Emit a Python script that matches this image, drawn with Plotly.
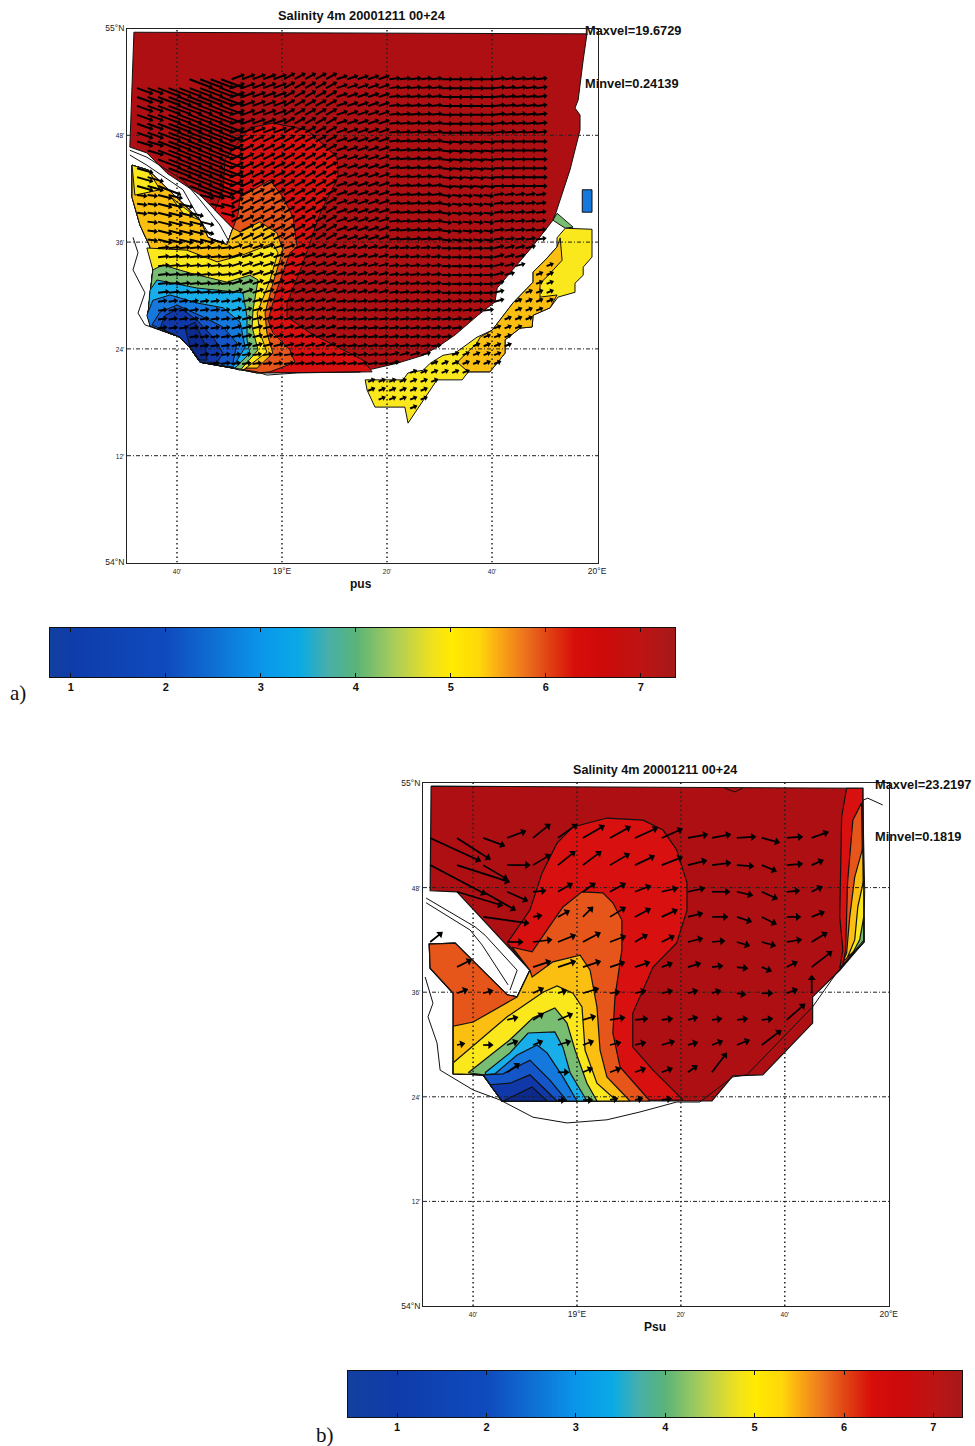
import numpy as np
import plotly.graph_objects as go

# ---------- page / axis layout (pixels on the 975x1446 sheet) ----------
W, H = 975, 1446
MAP_A_BOX = (127, 598, 28.5, 562.5)
MAP_B_BOX = (423, 889, 783, 1306)
BAR_A_BOX = (50, 675, 628, 677)
BAR_B_BOX = (348, 962, 1371, 1417)

# ---------- axes ----------
LON_TICKS = [18.6667, 19.0, 19.3333, 19.6667, 20.0]
LON_LABELS = ["<span style='font-size:6.5px'>40'</span>", "19°E", "<span style='font-size:6.5px'>20'</span>",
              "<span style='font-size:6.5px'>40'</span>", "20°E"]
LAT_TICKS = [54.0, 54.2, 54.4, 54.6, 54.8, 55.0]
LAT_LABELS = ["54°N", "<span style='font-size:6.5px'>12'</span>", "<span style='font-size:6.5px'>24'</span>",
              "<span style='font-size:6.5px'>36'</span>", "<span style='font-size:6.5px'>48'</span>", "55°N"]

# ---------- salinity colour classes ----------
C_DARKRED, C_RED, C_ORANGERED, C_AMBER, C_YELLOW, C_GREEN = "#ad0f12", "#d8100f", "#e6561a", "#fbbf12", "#fbe81c", "#79bd72"
C_SKY, C_BLUE, C_MIDBLUE, C_DEEP, C_DARKEST = "#18aeea", "#1478dc", "#1455c8", "#1038a8", "#0c2a8c"

# ---------- MAP A : salinity regions (lon, lat) ----------
A_SW_LON = [18.921, 18.844, 18.740, 18.708, 18.676, 18.581, 18.575, 18.590, 18.581, 18.549, 18.524, 18.524, 18.575, 18.740, 18.765, 18.825, 18.844]
A_SW_LAT = [54.355, 54.364, 54.375, 54.402, 54.422, 54.443, 54.467, 54.548, 54.591, 54.632, 54.684, 54.744, 54.735, 54.641, 54.609, 54.595, 54.626]
A_SC_LON = [18.844, 18.740, 18.708, 18.676, 18.581, 18.575]
A_SC_LAT = [54.364, 54.375, 54.402, 54.422, 54.443, 54.467]

A_BASE_LON = [18.530, 19.968, 19.956, 19.940, 19.930, 19.946, 19.946, 19.914, 19.870, 19.860, 19.794, 19.683, 19.676, 19.622, 19.549, 19.502, 19.448, 19.365, 19.248] + A_SW_LON + [18.740, 18.635, 18.571, 18.517]
A_BASE_LAT = [54.993, 54.990, 54.941, 54.866, 54.851, 54.838, 54.810, 54.735, 54.656, 54.641, 54.591, 54.514, 54.488, 54.463, 54.426, 54.407, 54.388, 54.373, 54.357] + A_SW_LAT + [54.688, 54.729, 54.767, 54.778]
A_RED_LON = [18.787, 18.813, 18.819, 18.898, 18.971, 19.079, 19.175, 19.178, 19.121, 19.067, 19.016, 19.016, 19.089, 19.257, 19.286] + A_SW_LON
A_RED_LAT = [54.660, 54.698, 54.754, 54.814, 54.823, 54.810, 54.759, 54.722, 54.654, 54.561, 54.486, 54.460, 54.430, 54.379, 54.357] + A_SW_LAT
A_ORG_LON = [18.860, 18.867, 18.962, 19.003, 19.035, 19.048, 19.025, 18.978, 18.956, 18.971, 19.025, 19.041, 18.962] + A_SW_LON
A_ORG_LAT = [54.651, 54.684, 54.716, 54.684, 54.647, 54.591, 54.580, 54.501, 54.454, 54.430, 54.398, 54.375, 54.357] + A_SW_LAT
A_AMB_LON = [18.867, 18.930, 18.984, 19.003, 18.971, 18.946, 18.952, 18.971, 18.921] + A_SW_LON[1:]
A_AMB_LAT = [54.619, 54.638, 54.617, 54.585, 54.523, 54.467, 54.430, 54.392, 54.364] + A_SW_LAT[1:]
A_YEL_LON = [18.571, 18.698, 18.794, 18.876, 18.971, 18.987, 18.962, 18.921, 18.930, 18.952, 18.876] + A_SC_LON + [18.590]
A_YEL_LAT = [54.589, 54.585, 54.563, 54.576, 54.598, 54.580, 54.529, 54.467, 54.430, 54.394, 54.360] + A_SC_LAT + [54.548]
A_GRN_LON = [18.590, 18.622, 18.708, 18.825, 18.898, 18.924, 18.908, 18.905, 18.924, 18.867] + A_SC_LON
A_GRN_LAT = [54.548, 54.557, 54.542, 54.525, 54.538, 54.529, 54.473, 54.441, 54.398, 54.360] + A_SC_LAT
A_SKY_LON = [18.581, 18.603, 18.730, 18.876, 18.889, 18.889, 18.898, 18.851] + A_SC_LON[1:]
A_SKY_LAT = [54.510, 54.529, 54.514, 54.505, 54.460, 54.417, 54.392, 54.364] + A_SC_LAT[1:]
A_BLU_LON = [18.571, 18.590, 18.644, 18.730, 18.813, 18.867, 18.883, 18.857, 18.844, 18.740, 18.708, 18.676, 18.581]
A_BLU_LAT = [54.463, 54.491, 54.501, 54.486, 54.477, 54.450, 54.403, 54.379, 54.366, 54.375, 54.402, 54.422, 54.443]
A_MID_LON = [18.587, 18.613, 18.667, 18.749, 18.813, 18.857, 18.844, 18.771, 18.740, 18.708, 18.676]
A_MID_LAT = [54.445, 54.469, 54.482, 54.460, 54.441, 54.411, 54.373, 54.373, 54.375, 54.402, 54.422]
A_DEP_LON = [18.613, 18.629, 18.676, 18.730, 18.781, 18.813, 18.794, 18.740, 18.708, 18.676]
A_DEP_LAT = [54.439, 54.463, 54.477, 54.454, 54.422, 54.392, 54.375, 54.375, 54.402, 54.422]
A_DRK_LON = [18.692, 18.724, 18.756, 18.762, 18.740, 18.708]
A_DRK_LAT = [54.441, 54.450, 54.407, 54.379, 54.379, 54.403]
A_PATCH_LON = [18.524, 18.575, 18.613, 18.533]
A_PATCH_LAT = [54.744, 54.735, 54.698, 54.688]
A_PATCH2_LON = [18.648, 18.740, 18.686]
A_PATCH2_LAT = [54.684, 54.641, 54.654]
A_BOX_LON = [19.953, 19.984, 19.984, 19.953]
A_BOX_LAT = [54.698, 54.698, 54.656, 54.656]
A_SLIV_LON = [19.873, 19.924, 19.899, 19.860]
A_SLIV_LAT = [54.654, 54.628, 54.626, 54.641]
A_LOBE_LON = [19.899, 19.984, 19.984, 19.956, 19.956, 19.930, 19.930, 19.876, 19.851, 19.797, 19.794, 19.756, 19.708, 19.708, 19.660, 19.591, 19.572, 19.492, 19.400, 19.390, 19.343, 19.295, 19.270, 19.264, 19.384, 19.400, 19.448, 19.470, 19.511, 19.549, 19.619, 19.667, 19.733, 19.797, 19.797, 19.835, 19.873, 19.873]
A_LOBE_LAT = [54.626, 54.624, 54.572, 54.553, 54.538, 54.523, 54.506, 54.497, 54.477, 54.463, 54.441, 54.439, 54.417, 54.392, 54.357, 54.357, 54.342, 54.342, 54.261, 54.291, 54.291, 54.291, 54.323, 54.342, 54.342, 54.355, 54.360, 54.373, 54.388, 54.392, 54.422, 54.435, 54.486, 54.525, 54.544, 54.566, 54.591, 54.608]
A_LOBEAMB_LON = [19.883, 19.889, 19.841, 19.819, 19.819, 19.873, 19.851, 19.797, 19.794, 19.756, 19.708, 19.708, 19.660, 19.591, 19.556, 19.619, 19.629, 19.667, 19.733, 19.797, 19.797, 19.835, 19.873]
A_LOBEAMB_LAT = [54.608, 54.566, 54.535, 54.523, 54.497, 54.501, 54.477, 54.463, 54.441, 54.439, 54.417, 54.392, 54.357, 54.357, 54.375, 54.411, 54.422, 54.435, 54.486, 54.525, 54.544, 54.566, 54.591]
A_COAST_LON = [18.527, 18.543, 18.527, 18.565, 18.543, 18.565, 18.676, 18.708, 18.740, 18.857, 18.921, 18.952, 19.048, 19.248]
A_COAST_LAT = [54.609, 54.580, 54.548, 54.505, 54.467, 54.445, 54.422, 54.402, 54.375, 54.364, 54.357, 54.351, 54.355, 54.357]
A_SPIT1_LON = [18.517, 18.571, 18.686, 18.740, 18.803, 18.829]
A_SPIT1_LAT = [54.772, 54.759, 54.716, 54.679, 54.632, 54.604]
A_SPIT2_LON = [18.517, 18.571, 18.686, 18.740, 18.771]
A_SPIT2_LAT = [54.763, 54.744, 54.698, 54.641, 54.613]

# MAP A : current vectors, read block by block (regular model grid)
A_GRID_LON = np.arange(18.54, 19.84, 1 / 30)
A_GRID_LAT = np.arange(54.905, 54.28, -1 / 60)
A_COVER_LON = [18.53, 18.76, 19.84, 19.84, 19.885, 19.885, 18.5]
A_COVER_LAT = [54.892, 54.912, 54.912, 54.60, 54.60, 54.2, 54.2]
A_BLOCK_LON_EDGES = [18.60, 18.83, 19.0, 19.17, 19.33, 19.5, 19.67, 19.83]
A_BLOCK_LAT_EDGES = [54.8, 54.7, 54.6, 54.5, 54.4]
A_BLOCK_U = [[14, 21, 11, 9, 9, 9, 9, 9, 9],
             [14, 21, 10, 9, 9, 9, 9, 9, 9],
             [8, 12, 10, 9, 9, 9, 8, 8, 8],
             [8, 9, 9, 9, 8, 8, 8, 8, 8],
             [7, 7, 8, 8, 8, 8, 8, 8, 8],
             [7, 7, 7, 8, 8, 8, 8, 8, 8]]
A_BLOCK_V = [[-5, -8, 4, 5, 3, 1, 0, 1, 1],
             [-4, -8, 5, 5, 3, 1, -1, 0, 1],
             [-1, -3, 5, 5, 3, 1, -1, 1, 3],
             [2, 1, 3, 3, 2, 1, 0, 2, 3],
             [1, 1, 2, 2, 1, 1, 1, 2, 3],
             [1, 1, 1, 1, 1, 2, 3, 3, 3]]
A_LOBE_U, A_LOBE_V = 5, 2

# ---------- MAP B : salinity regions ----------
B_SW_LON = [18.760, 18.699, 18.603, 18.603, 18.529, 18.526, 18.609, 18.776, 18.808, 18.849]
B_SW_LAT = [54.392, 54.442, 54.444, 54.598, 54.646, 54.692, 54.694, 54.595, 54.591, 54.642]
B_BASE_LON = [18.532, 19.917, 19.920, 19.843, 19.756, 19.756, 19.596, 19.500, 19.433] + B_SW_LON + [18.615, 18.529]
B_BASE_LAT = [54.994, 54.990, 54.696, 54.642, 54.591, 54.541, 54.442, 54.440, 54.392] + B_SW_LAT + [54.792, 54.794]
B_RED_LON = [18.776, 18.849, 18.888, 18.936, 18.987, 19.096, 19.212, 19.276, 19.320, 19.353, 19.353, 19.320, 19.244, 19.179, 19.179, 19.244, 19.340] + B_SW_LON
B_RED_LAT = [54.694, 54.757, 54.828, 54.885, 54.916, 54.933, 54.929, 54.910, 54.872, 54.809, 54.757, 54.694, 54.648, 54.560, 54.495, 54.451, 54.394] + B_SW_LAT
B_ORG_LON = [18.792, 18.856, 18.904, 18.955, 19.016, 19.083, 19.115, 19.144, 19.144, 19.122, 19.115, 19.138, 19.234] + B_SW_LON
B_ORG_LAT = [54.686, 54.677, 54.719, 54.763, 54.792, 54.790, 54.771, 54.738, 54.681, 54.591, 54.522, 54.457, 54.392] + B_SW_LAT
B_AMB_LON = [18.808, 18.849, 18.856, 18.923, 19.010, 19.042, 19.064, 19.074, 19.096, 19.170, 18.760, 18.699, 18.603, 18.603, 18.667]
B_AMB_LAT = [54.591, 54.642, 54.629, 54.658, 54.671, 54.642, 54.572, 54.489, 54.438, 54.392, 54.392, 54.442, 54.444, 54.535, 54.543]
B_YEL_LON = [18.603, 18.776, 18.891, 18.936, 18.987, 19.016, 19.026, 19.064, 19.128, 18.760, 18.699, 18.603]
B_YEL_LAT = [54.465, 54.553, 54.600, 54.612, 54.598, 54.572, 54.489, 54.426, 54.392, 54.392, 54.442, 54.444]
B_GRN_LON = [18.651, 18.785, 18.859, 18.929, 18.968, 18.994, 19.032, 19.064, 18.760, 18.699]
B_GRN_LAT = [54.446, 54.509, 54.551, 54.570, 54.541, 54.489, 54.426, 54.392, 54.392, 54.442]
B_SKY_LON = [18.705, 18.785, 18.843, 18.929, 18.955, 18.978, 19.032, 18.760]
B_SKY_LAT = [54.446, 54.484, 54.522, 54.524, 54.495, 54.446, 54.392, 54.392]
B_BLU_LON = [18.737, 18.808, 18.872, 18.904, 18.955, 19.000, 18.760, 18.699]
B_BLU_LAT = [54.444, 54.480, 54.499, 54.484, 54.438, 54.392, 54.392, 54.442]
B_MID_LON = [18.699, 18.763, 18.849, 18.913, 18.968, 18.760]
B_MID_LAT = [54.442, 54.444, 54.470, 54.432, 54.392, 54.392]
B_DEP_LON = [18.721, 18.785, 18.849, 18.936, 18.760]
B_DEP_LAT = [54.423, 54.426, 54.442, 54.392, 54.392]
B_DRK_LON = [18.763, 18.856, 18.904]
B_DRK_LAT = [54.392, 54.419, 54.392]
B_E_RED_LON = [19.865, 19.849, 19.843, 19.853, 19.843, 19.920, 19.917]
B_E_RED_LAT = [54.990, 54.935, 54.744, 54.681, 54.646, 54.696, 54.990]
B_E_ORG_LON = [19.913, 19.885, 19.868, 19.862, 19.853, 19.920]
B_E_ORG_LAT = [54.962, 54.929, 54.809, 54.681, 54.652, 54.696]
B_E_AMB_LON = [19.917, 19.891, 19.875, 19.865, 19.853, 19.920]
B_E_AMB_LAT = [54.876, 54.820, 54.744, 54.675, 54.658, 54.696]
B_E_YEL_LON = [19.920, 19.901, 19.891, 19.868, 19.920]
B_E_YEL_LAT = [54.815, 54.763, 54.700, 54.667, 54.696]
B_E_GRN_LON = [19.920, 19.907, 19.881, 19.920]
B_E_GRN_LAT = [54.744, 54.700, 54.671, 54.696]
B_COAST_LON = [18.513, 18.538, 18.522, 18.551, 18.561, 18.667, 18.753, 18.859, 18.968, 19.096, 19.202, 19.320, 19.394, 19.500, 19.545, 19.756, 19.833, 19.920, 19.923, 19.917, 19.933, 19.981]
B_COAST_LAT = [54.629, 54.579, 54.553, 54.503, 54.451, 54.413, 54.394, 54.361, 54.350, 54.356, 54.371, 54.390, 54.390, 54.438, 54.442, 54.572, 54.637, 54.700, 54.795, 54.967, 54.971, 54.958]
B_SPIT1_LON = [18.516, 18.673, 18.705, 18.808, 18.785]
B_SPIT1_LAT = [54.780, 54.725, 54.709, 54.642, 54.604]
B_SPIT2_LON = [18.516, 18.657, 18.696, 18.779]
B_SPIT2_LAT = [54.771, 54.719, 54.690, 54.614]
B_NOTCH_LON = [19.474, 19.506, 19.532]
B_NOTCH_LAT = [54.990, 54.983, 54.990]

# MAP B : current vectors at each grid node
B_COL_LON = [18.529, 18.615, 18.699, 18.776, 18.859, 18.939, 19.019, 19.106, 19.186, 19.272, 19.356, 19.433, 19.513, 19.593, 19.673, 19.753]
B_ROW_LAT = [54.895, 54.843, 54.792, 54.744, 54.696, 54.648, 54.598, 54.547, 54.499, 54.447, 54.394]
_ = None
B_U = [[48, 31, 19, 16, 15, 17, 19, 18, 20, 18, 17, 16, 16, 15, 13, 14],
       [53, 50, 22, 20, 15, 15, 16, 17, 17, 18, 16, 16, 14, 12, 13, 9],
       [_, 43, 30, 18, 10, 12, 10, 13, 13, 13, 14, 15, 13, 13, 10, 8],
       [_, _, 43, _, 6, 9, 8, 13, 13, 13, 12, 13, 12, 12, 11, 10],
       [10, _, _, 13, 16, 15, 15, 13, 10, 10, 12, 10, 10, 11, 12, 13],
       [_, 12, _, _, 15, 15, 15, 12, 12, 8, 10, 8, 8, 7, 8, 18],
       [_, 8, 7, _, 8, 6, 13, 7, 8, 8, 7, 6, 6, 8, 8, 0],
       [_, _, _, 8, 8, 12, 10, 12, 10, 8, 7, 7, 8, 8, 16, _],
       [_, 5, 7, 8, 7, 10, 8, 8, 8, 10, 7, 8, 10, 17, _, _],
       [_, _, _, 10, _, 8, 7, 8, 8, 8, 7, 13, _, _, _, _],
       [_, _, _, _, _, 5, 7, 5, 5, 7, _, _, _, _, _, _]]
B_V = [[-22, -20, -7, 6, 12, 12, 11, 10, 9, 8, 3, 3, 1, -4, 1, 5],
       [-28, -16, -13, 0, 9, 12, 12, 10, 8, 7, 4, 2, -1, -5, 1, 4],
       [_, -13, -17, -8, 1, 7, 7, 7, 5, 3, 3, 0, -3, -6, 1, 4],
       [_, _, -6, _, 1, 5, 8, 8, 7, 6, 3, 0, -4, -6, 0, 4],
       [8, _, _, 0, 2, 6, 8, 5, 6, 5, 3, 1, -3, -3, 2, 8],
       [_, 6, _, _, 5, 5, 5, 4, 4, 3, 3, 1, -1, -3, 4, 14],
       [_, 3, 2, _, 4, 2, 4, 1, 2, 2, 2, 2, -1, 0, 3, 15],
       [_, _, _, 2, 5, 5, 3, 2, 1, 1, 2, 1, 1, 1, 14, _],
       [_, 1, 0, 3, 3, 3, 3, 2, 2, 3, 2, 3, 4, 13, _, _],
       [_, _, _, 7, _, 0, 3, 3, 3, 3, 5, 17, _, _, _, _],
       [_, _, _, _, _, 0, 0, 1, 1, 1, _, _, _, _, _, _]]

# ---------- colour bars ----------
BAR_A_LEVELS = [0.78, 1, 1.5, 2, 2.5, 3, 3.4, 3.7, 4, 4.4, 4.8, 5, 5.3, 5.5, 5.8, 6, 6.3, 6.6, 7, 7.36]
BAR_B_LEVELS = [0.45, 1, 1.5, 2, 2.5, 3, 3.4, 3.7, 4, 4.4, 4.8, 5, 5.3, 5.5, 5.8, 6, 6.3, 6.6, 7, 7.32]
BAR_TICKS = [1, 2, 3, 4, 5, 6, 7]
SAL_STOPS = [0.45, 1, 2, 2.5, 3, 3.4, 3.7, 4, 4.4, 4.8, 5, 5.3, 5.5, 5.8, 6, 6.3, 6.6, 7, 7.36]
SAL_COLORS = ["#12409f", "#0f3caa", "#0f4bbe", "#0f6ed2", "#0a96eb", "#0aaae6", "#46afaa", "#5ab478", "#aacd5a",
              "#f0e11e", "#ffeb00", "#ffd70a", "#faaa14", "#eb6e1e", "#e14614", "#d70f0a", "#cd0a0a", "#be1414", "#a5191a"]

# ---------- helpers ----------
def xdom(box):
    return [box[0] / W, box[1] / W]

def ydom(box):
    return [1 - box[3] / H, 1 - box[2] / H]

def bar_scale(lo, hi):
    pts = [(s, c) for s, c in zip(SAL_STOPS, SAL_COLORS) if lo < s < hi]
    first = SAL_COLORS[0] if lo <= 1 else SAL_COLORS[1]
    return [[0.0, first]] + [[(s - lo) / (hi - lo), c] for s, c in pts] + [[1.0, SAL_COLORS[-1]]]

def inside(px, py, lon, lat):
    lon, lat = np.asarray(lon), np.asarray(lat)
    x2, y2 = np.roll(lon, -1), np.roll(lat, -1)
    c = False
    for x1, y1, xb, yb in zip(lon, lat, x2, y2):
        if (y1 > py) != (yb > py) and px < (xb - x1) * (py - y1) / (yb - y1) + x1:
            c = not c
    return c

fig = go.Figure()

def region(lon, lat, color, ax, lw=1.0):
    fig.add_trace(go.Scatter(x=lon + lon[:1], y=lat + lat[:1], mode="lines", fill="toself", fillcolor=color,
                             line=dict(color="#111111", width=lw), hoverinfo="skip", showlegend=False,
                             xaxis="x" + ax, yaxis="y" + ax))

def polyline(lon, lat, ax, lw=1.0):
    fig.add_trace(go.Scatter(x=lon, y=lat, mode="lines", line=dict(color="#111111", width=lw), hoverinfo="skip",
                             showlegend=False, xaxis="x" + ax, yaxis="y" + ax))

def grid(ax, xr, yr):
    lx, ly = [], []
    for v in LON_TICKS[:-1]:
        lx += [v, v, None]
        ly += [yr[0], yr[1], None]
    fig.add_trace(go.Scatter(x=lx, y=ly, mode="lines", line=dict(color="#222222", width=1.5, dash="1.5px,3px"),
                             hoverinfo="skip", showlegend=False, xaxis="x" + ax, yaxis="y" + ax))
    lx, ly = [], []
    for v in LAT_TICKS[1:-1]:
        lx += [xr[0], xr[1], None]
        ly += [v, v, None]
    fig.add_trace(go.Scatter(x=lx, y=ly, mode="lines", line=dict(color="#222222", width=1, dash="4px,2px,1px,2px"),
                             hoverinfo="skip", showlegend=False, xaxis="x" + ax, yaxis="y" + ax))

def quiver(lons, lats, us, vs, kx, ky, ax, lw, head):
    lx, ly, hx, hy, ang = [], [], [], [], []
    for lo, la, u, v in zip(lons, lats, us, vs):
        ex, ey = lo + u * kx, la + v * ky
        lx += [lo, ex, None]
        ly += [la, ey, None]
        hx.append(ex)
        hy.append(ey)
        ang.append(float(np.degrees(np.arctan2(u, v))))
    fig.add_trace(go.Scatter(x=lx, y=ly, mode="lines", line=dict(color="black", width=lw), hoverinfo="skip",
                             showlegend=False, xaxis="x" + ax, yaxis="y" + ax))
    fig.add_trace(go.Scatter(x=hx, y=hy, mode="markers",
                             marker=dict(symbol="triangle-up", size=head, color="black", angle=ang, line=dict(width=0)),
                             hoverinfo="skip", showlegend=False, xaxis="x" + ax, yaxis="y" + ax))

# ---------- draw map A ----------
A_X = [18.508, 20.003]
B_X = [18.506, 20.001]
LAT_R = [54.0, 55.0]
for lon, lat, col in [(A_BASE_LON, A_BASE_LAT, C_DARKRED), (A_RED_LON, A_RED_LAT, C_RED), (A_ORG_LON, A_ORG_LAT, C_ORANGERED),
                      (A_AMB_LON, A_AMB_LAT, C_AMBER), (A_PATCH_LON, A_PATCH_LAT, C_YELLOW), (A_PATCH2_LON, A_PATCH2_LAT, C_YELLOW),
                      (A_YEL_LON, A_YEL_LAT, C_YELLOW), (A_GRN_LON, A_GRN_LAT, C_GREEN), (A_SKY_LON, A_SKY_LAT, C_SKY),
                      (A_BLU_LON, A_BLU_LAT, C_BLUE), (A_MID_LON, A_MID_LAT, C_MIDBLUE), (A_DEP_LON, A_DEP_LAT, C_DEEP),
                      (A_DRK_LON, A_DRK_LAT, C_DARKEST), (A_BOX_LON, A_BOX_LAT, C_BLUE), (A_SLIV_LON, A_SLIV_LAT, C_GREEN),
                      (A_LOBE_LON, A_LOBE_LAT, C_YELLOW), (A_LOBEAMB_LON, A_LOBEAMB_LAT, C_AMBER)]:
    region(lon, lat, col, "")
polyline(A_COAST_LON, A_COAST_LAT, "")
polyline(A_SPIT1_LON, A_SPIT1_LAT, "")
polyline(A_SPIT2_LON, A_SPIT2_LAT, "")
grid("", A_X, LAT_R)

qlon, qlat, qu, qv = [], [], [], []
A_LON_E = np.array(A_BLOCK_LON_EDGES)
A_LAT_E = np.array(A_BLOCK_LAT_EDGES)
for la in A_GRID_LAT:
    for lo in A_GRID_LON:
        if not inside(lo, la, A_COVER_LON, A_COVER_LAT):
            continue
        if inside(lo, la, A_LOBE_LON, A_LOBE_LAT):
            u, v = A_LOBE_U, A_LOBE_V
        elif inside(lo, la, A_BASE_LON, A_BASE_LAT):
            r = int(np.sum(la < A_LAT_E))
            c = int(np.sum(lo > A_LON_E))
            u, v = A_BLOCK_U[r][c], A_BLOCK_V[r][c]
        else:
            continue
        qlon.append(float(lo)); qlat.append(float(la)); qu.append(u); qv.append(v)
quiver(qlon, qlat, qu, qv, 1 / 315, 1 / 534, "", 2.0, 5)

# ---------- draw map B ----------
for lon, lat, col in [(B_BASE_LON, B_BASE_LAT, C_DARKRED), (B_RED_LON, B_RED_LAT, C_RED), (B_ORG_LON, B_ORG_LAT, C_ORANGERED),
                      (B_AMB_LON, B_AMB_LAT, C_AMBER), (B_YEL_LON, B_YEL_LAT, C_YELLOW), (B_GRN_LON, B_GRN_LAT, C_GREEN),
                      (B_SKY_LON, B_SKY_LAT, C_SKY), (B_BLU_LON, B_BLU_LAT, C_BLUE), (B_MID_LON, B_MID_LAT, C_MIDBLUE),
                      (B_DEP_LON, B_DEP_LAT, C_DEEP), (B_DRK_LON, B_DRK_LAT, C_DARKEST), (B_E_RED_LON, B_E_RED_LAT, C_RED),
                      (B_E_ORG_LON, B_E_ORG_LAT, C_ORANGERED), (B_E_AMB_LON, B_E_AMB_LAT, C_AMBER),
                      (B_E_YEL_LON, B_E_YEL_LAT, C_YELLOW), (B_E_GRN_LON, B_E_GRN_LAT, C_GREEN)]:
    region(lon, lat, col, "2", 1.2)
polyline(B_COAST_LON, B_COAST_LAT, "2")
polyline(B_SPIT1_LON, B_SPIT1_LAT, "2")
polyline(B_SPIT2_LON, B_SPIT2_LAT, "2")
polyline(B_NOTCH_LON, B_NOTCH_LAT, "2")
grid("2", B_X, LAT_R)

blon, blat, bu, bv = [], [], [], []
for i, la in enumerate(B_ROW_LAT):
    for j, lo in enumerate(B_COL_LON):
        if B_U[i][j] is not None:
            blon.append(lo); blat.append(la); bu.append(B_U[i][j]); bv.append(B_V[i][j])
quiver(blon, blat, bu, bv, 1 / 312, 1 / 523, "2", 1.7, 7)

# ---------- colour bars ----------
fig.add_trace(go.Heatmap(z=[BAR_A_LEVELS, BAR_A_LEVELS], x=BAR_A_LEVELS, y=[0, 1], colorscale=bar_scale(0.78, 7.36),
                         zmin=0.78, zmax=7.36, zsmooth="best", showscale=False, hoverinfo="skip", xaxis="x3", yaxis="y3"))
fig.add_trace(go.Heatmap(z=[BAR_B_LEVELS, BAR_B_LEVELS], x=BAR_B_LEVELS, y=[0, 1], colorscale=bar_scale(0.45, 7.32),
                         zmin=0.45, zmax=7.32, zsmooth="best", showscale=False, hoverinfo="skip", xaxis="x4", yaxis="y4"))

# ---------- axes ----------
map_x = dict(showgrid=False, zeroline=False, showline=True, mirror=True, linecolor="#222222", linewidth=1, automargin=False,
             tickmode="array", tickvals=LON_TICKS, ticktext=LON_LABELS, ticks="",
             tickfont=dict(family="Liberation Sans", size=8.5, color="#222222"), tickangle=0)
map_y = dict(showgrid=False, zeroline=False, showline=True, mirror=True, linecolor="#222222", linewidth=1, automargin=False,
             tickmode="array", tickvals=LAT_TICKS, ticktext=LAT_LABELS, ticks="",
             tickfont=dict(family="Liberation Sans", size=8.5, color="#222222"), range=LAT_R)
bar_x = dict(showgrid=False, zeroline=False, showline=True, mirror="ticks", linecolor="#111111", linewidth=1, automargin=False,
             tickmode="array", tickvals=BAR_TICKS, ticks="inside", ticklen=4, tickcolor="#111111", tickwidth=1,
             tickfont=dict(family="Liberation Sans", size=11, color="#111111", weight="bold"))
bar_y = dict(showgrid=False, zeroline=False, showline=True, mirror=True, linecolor="#111111", linewidth=1, automargin=False,
             showticklabels=False, ticks="", range=[0, 1])

fig.update_layout(
    width=W, height=H, autosize=False, margin=dict(l=0, r=0, t=0, b=0),
    paper_bgcolor="white", plot_bgcolor="white", showlegend=False,
    xaxis={**map_x, "domain": xdom(MAP_A_BOX), "range": A_X, "anchor": "y"},
    yaxis={**map_y, "domain": ydom(MAP_A_BOX), "anchor": "x"},
    xaxis2={**map_x, "domain": xdom(MAP_B_BOX), "range": B_X, "anchor": "y2"},
    yaxis2={**map_y, "domain": ydom(MAP_B_BOX), "anchor": "x2"},
    xaxis3={**bar_x, "domain": xdom(BAR_A_BOX), "range": [0.78, 7.36], "anchor": "y3"},
    yaxis3={**bar_y, "domain": ydom(BAR_A_BOX), "anchor": "x3"},
    xaxis4={**bar_x, "domain": xdom(BAR_B_BOX), "range": [0.45, 7.32], "anchor": "y4"},
    yaxis4={**bar_y, "domain": ydom(BAR_B_BOX), "anchor": "x4"},
)

def note(text, x, y, size, anchor="center", family="Liberation Sans", weight="bold"):
    fig.add_annotation(text=text, x=x / W, y=1 - y / H, xref="paper", yref="paper", showarrow=False, xanchor=anchor,
                       yanchor="middle", font=dict(family=family, size=size, color="#111111", weight=weight))

TITLE = "Salinity 4m 20001211 00+24"
note(TITLE, 362, 16, 12.8)
note("Maxvel=19.6729", 583, 30, 12.8, "left")
note("Minvel=0.24139", 583, 83, 12.8, "left")
note("pus", 361, 584, 12)
note("a)", 18, 693, 21, family="Liberation Serif", weight="normal")
note(TITLE, 655, 770, 12.6)
note("Maxvel=23.2197", 873, 784, 12.8, "left")
note("Minvel=0.1819", 873, 836, 12.8, "left")
note("Psu", 655, 1327, 12)
note("b)", 325, 1435, 21, family="Liberation Serif", weight="normal")

fig.write_html("out.html", config=dict(displayModeBar=False), post_script="document.body.style.margin='0';")
